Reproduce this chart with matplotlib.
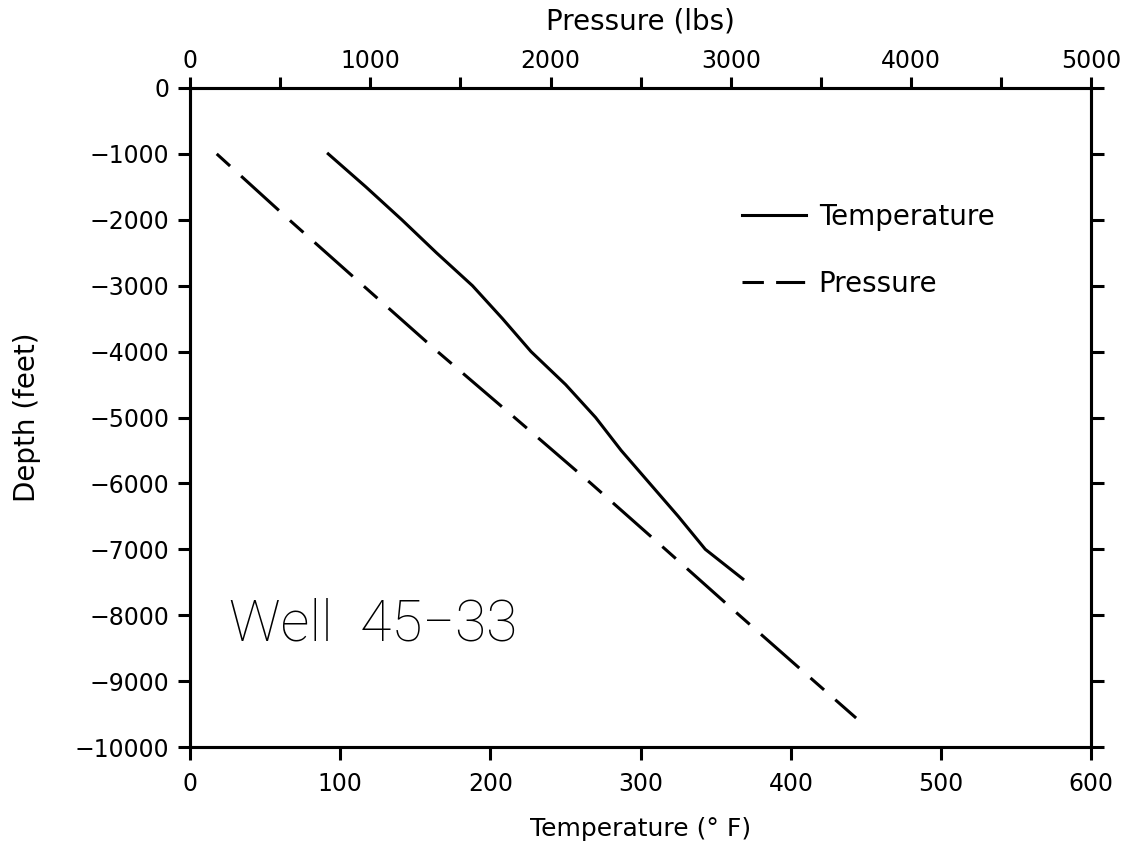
import matplotlib
matplotlib.use("Agg")
import matplotlib.pyplot as plt
from matplotlib.lines import Line2D

# well 45-33 logging data
depth_t = [-1000, -1500, -2000, -2500, -3000, -3500, -4000, -4500, -5000,
           -5500, -6000, -6500, -7000, -7450]
temp_f = [92, 117, 141, 164, 188, 208, 227, 250, 270, 287, 306, 325, 343, 368]

depth_p = [-1000, -2000, -3000, -4000, -5000, -6000, -7000, -8000, -9000, -9560]
press_lbs = [148, 550, 961, 1373, 1800, 2224, 2637, 3047, 3462, 3695]

temp_ticks = [0, 100, 200, 300, 400, 500, 600]
press_ticks = [0, 1000, 2000, 3000, 4000, 5000]
depth_ticks = list(range(0, -10001, -1000))

plt.rcParams['font.family'] = ['DejaVu Sans']
lw = 2.2
fs = 17

fig = plt.figure(figsize=(11.38, 8.46), dpi=100)
ax = fig.add_axes([0.167, 0.117, 0.792, 0.779])
ax2 = ax.twiny()

ax.plot(temp_f, depth_t, color='k', lw=lw)
dash = (0, (5.9, 4.9, 16.7, 4.9))
ax2.plot(press_lbs, depth_p, color='k', lw=lw, linestyle=dash)

ax.set_xlim(0, 600)
ax.set_ylim(-10000, 0)
ax2.set_xlim(0, 5000)

ax.set_xticks(temp_ticks)
ax.set_yticks(depth_ticks)
ax2.set_xticks(press_ticks)
ax2.set_xticks(range(500, 5000, 1000), minor=True)

for a in (ax, ax2):
    for s in a.spines.values():
        s.set_linewidth(lw)
ax.tick_params(axis='both', direction='out', length=9, width=lw,
               labelsize=fs, pad=6, right=True)
ax.tick_params(axis='x', pad=9)
ax2.tick_params(axis='x', which='both', direction='out', length=8, width=lw,
                labelsize=fs, pad=3)

ax.set_xlabel('Temperature (° F)', fontsize=18, labelpad=15)
ax2.set_xlabel('Pressure (lbs)', fontsize=20, labelpad=14)
ax.set_ylabel('Depth (feet)', fontsize=20, labelpad=24)

ax.text(26, -8150, 'Well  45−33', fontsize=41, family=['Roboto', 'DejaVu Sans'],
        fontweight='light', va='center', ha='left')

handles = [Line2D([], [], color='k', lw=lw),
           Line2D([], [], color='k', lw=lw, linestyle=(0, (7.0, 4.0, 9.5, 4.0)))]
ax.legend(handles, ['Temperature', 'Pressure'], loc='upper left',
          bbox_to_anchor=(0.585, 0.864), frameon=False, fontsize=20,
          handlelength=2.3, handletextpad=0.45, labelspacing=1.4)

fig.savefig('out.png', dpi=100)
